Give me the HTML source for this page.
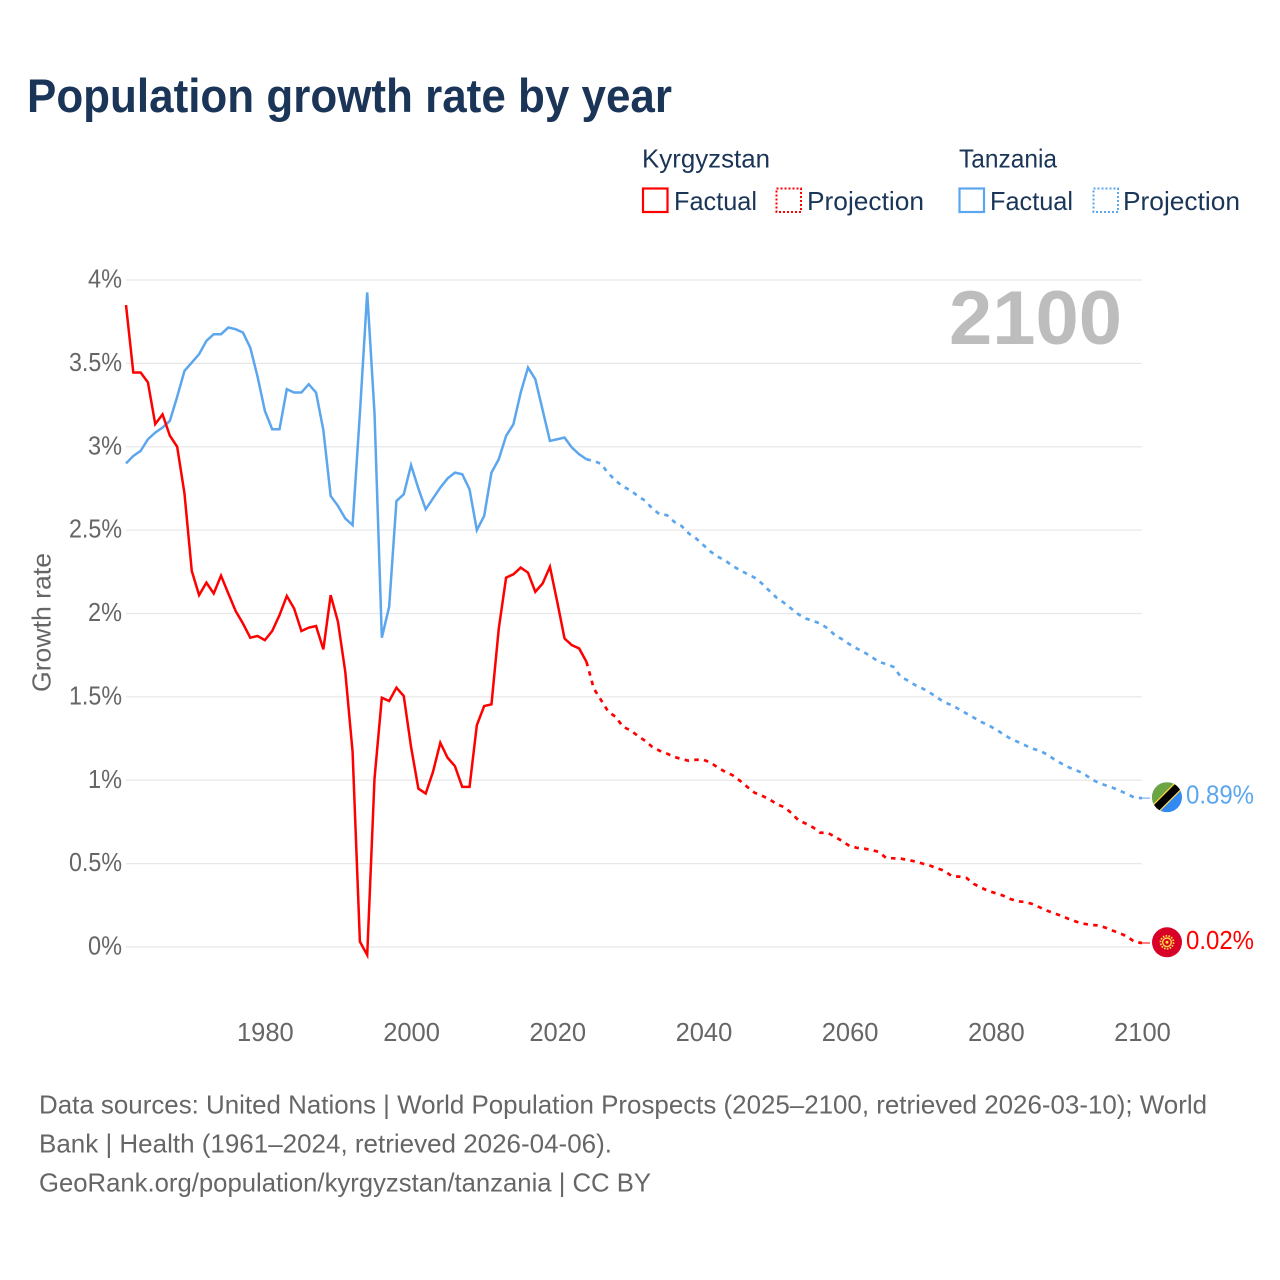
<!DOCTYPE html>
<html lang="en">
<head>
<meta charset="utf-8">
<title>Population growth rate by year</title>
<style>
html,body{margin:0;padding:0;background:#fff;}
svg{display:block;font-family:"Liberation Sans",sans-serif;}
.legend-text{font-size:26px;fill:#1a3557;}
.foot{font-size:26px;fill:#666;}
</style>
</head>
<body>
<svg id="chart" xmlns="http://www.w3.org/2000/svg" width="1280" height="1280" viewBox="0 0 1280 1280">
  <defs>
    <clipPath id="clip-flag"><circle cx="0" cy="0" r="15"/></clipPath>
  </defs>
  <rect x="0" y="0" width="1280" height="1280" fill="#fff"/>
  <text x="27" y="112" font-size="47" font-weight="700" fill="#1a3557" textLength="645" lengthAdjust="spacingAndGlyphs">Population growth rate by year</text>

  <g>
    <text class="legend-text" x="642" y="167.500" textLength="128" lengthAdjust="spacingAndGlyphs">Kyrgyzstan</text>
    <text class="legend-text" x="959" y="167.500" textLength="98" lengthAdjust="spacingAndGlyphs">Tanzania</text>
    <rect x="643" y="188.500" width="24.500" height="23.500" fill="none" stroke="#ff0000" stroke-width="2.200"/>
    <text class="legend-text" x="674" y="210" textLength="83" lengthAdjust="spacingAndGlyphs">Factual</text>
    <rect x="776.500" y="188.500" width="24.500" height="23.500" fill="none" stroke="#ff0000" stroke-width="2" stroke-dasharray="2 2"/>
    <text class="legend-text" x="807" y="210" textLength="117" lengthAdjust="spacingAndGlyphs">Projection</text>
    <rect x="959.500" y="188.500" width="24.500" height="23.500" fill="none" stroke="#5ca6ee" stroke-width="2.200"/>
    <text class="legend-text" x="990" y="210" textLength="83" lengthAdjust="spacingAndGlyphs">Factual</text>
    <rect x="1093.500" y="188.500" width="24.500" height="23.500" fill="none" stroke="#5ca6ee" stroke-width="2" stroke-dasharray="2 2"/>
    <text class="legend-text" x="1123" y="210" textLength="117" lengthAdjust="spacingAndGlyphs">Projection</text>
  </g>

  <g id="grid"></g>
  <g id="y-ticks"></g>
  <g id="x-ticks"></g>
  <text transform="translate(50.500,622.500) rotate(-90)" text-anchor="middle" font-size="26" fill="#666" textLength="139" lengthAdjust="spacingAndGlyphs">Growth rate</text>
  <text x="949" y="344" font-size="76" font-weight="700" fill="#bdbdbd" textLength="173" lengthAdjust="spacingAndGlyphs">2100</text>

  <g id="series"></g>

  <g id="flag-tz">
    <g clip-path="url(#clip-flag)">
      <rect x="-15" y="-15" width="30" height="30" fill="#338af3"/>
      <polygon points="-15,-15 15,-15 -15,15" fill="#6da544"/>
      <line x1="-20" y1="20" x2="20" y2="-20" stroke="#ffda44" stroke-width="10"/>
      <line x1="-20" y1="20" x2="20" y2="-20" stroke="#000" stroke-width="7.500"/>
    </g>
  </g>
  <g id="flag-kg">
    <circle r="15" fill="#d80027"/>
    <circle r="6.500" fill="none" stroke="#ffda44" stroke-width="1.800" stroke-dasharray="1.600 1.300"/>
    <circle r="5" fill="#ffda44"/>
    <circle r="3.600" fill="#d80027"/>
    <circle r="1.500" fill="#ffda44"/>
  </g>
  <text id="label-tz" x="1186" font-size="26" fill="#5ca6ee" textLength="68" lengthAdjust="spacingAndGlyphs"></text>
  <text id="label-kg" x="1186" font-size="26" fill="#ff0000" textLength="68" lengthAdjust="spacingAndGlyphs"></text>

  <g>
    <text class="foot" x="39" y="1113.500" textLength="1168" lengthAdjust="spacingAndGlyphs">Data sources: United Nations | World Population Prospects (2025–2100, retrieved 2026-03-10); World</text>
    <text class="foot" x="39" y="1152.500" textLength="573" lengthAdjust="spacingAndGlyphs">Bank | Health (1961–2024, retrieved 2026-04-06).</text>
    <text class="foot" x="39" y="1191.500" textLength="612" lengthAdjust="spacingAndGlyphs">GeoRank.org/population/kyrgyzstan/tanzania | CC BY</text>
  </g>
</svg>
<script>
const firstYear = 1961;
const lastYear = 2100;
const factualEndYear = 2024;
const yTickValues = [0, 0.5, 1, 1.5, 2, 2.5, 3, 3.5, 4];
const yTickLabels = ["0%", "0.5%", "1%", "1.5%", "2%", "2.5%", "3%", "3.5%", "4%"];
const xTickValues = [1980, 2000, 2020, 2040, 2060, 2080, 2100];
const xTickLabels = ["1980", "2000", "2020", "2040", "2060", "2080", "2100"];
const endLabels = { kyrgyzstan: "0.02%", tanzania: "0.89%" };

// Kyrgyzstan 1961-2024
const kyrgyzstanFactual = [3.85,3.445,3.445,3.386,3.136,3.194,3.066,3.0,2.72,2.255,2.11,2.185,2.12,2.227,2.12,2.015,1.94,1.855,1.865,1.84,1.895,1.99,2.105,2.03,1.895,1.915,1.925,1.785,2.11,1.95,1.65,1.17,0.032,-0.048,1.01,1.495,1.475,1.555,1.505,1.2,0.95,0.92,1.05,1.225,1.135,1.085,0.96,0.96,1.33,1.445,1.455,1.91,2.215,2.235,2.275,2.245,2.13,2.18,2.28,2.07,1.85,1.81,1.79,1.71];
// Kyrgyzstan 2024-2100
const kyrgyzstanProjection = [1.71,1.55,1.48,1.41,1.38,1.32,1.30,1.267,1.237,1.20,1.177,1.16,1.14,1.127,1.117,1.123,1.123,1.105,1.075,1.05,1.03,0.997,0.96,0.925,0.907,0.887,0.857,0.84,0.805,0.76,0.74,0.717,0.685,0.685,0.66,0.635,0.605,0.595,0.59,0.582,0.57,0.534,0.532,0.53,0.522,0.512,0.50,0.488,0.472,0.456,0.424,0.422,0.414,0.378,0.356,0.336,0.322,0.308,0.288,0.274,0.27,0.258,0.238,0.218,0.202,0.186,0.168,0.152,0.14,0.132,0.13,0.116,0.098,0.082,0.062,0.03,0.024];
// Tanzania 1961-2024
const tanzaniaFactual = [2.90,2.945,2.975,3.045,3.085,3.115,3.155,3.30,3.455,3.505,3.555,3.635,3.675,3.675,3.715,3.705,3.685,3.595,3.42,3.215,3.105,3.105,3.345,3.325,3.325,3.375,3.325,3.10,2.705,2.645,2.57,2.53,3.2,3.925,3.2,1.855,2.04,2.675,2.715,2.89,2.75,2.625,2.69,2.755,2.81,2.845,2.835,2.745,2.50,2.585,2.845,2.925,3.065,3.135,3.325,3.475,3.405,3.22,3.035,3.045,3.055,2.995,2.955,2.925];
// Tanzania 2024-2100
const tanzaniaProjection = [2.925,2.915,2.897,2.84,2.797,2.76,2.74,2.705,2.677,2.63,2.595,2.59,2.55,2.525,2.48,2.45,2.41,2.37,2.34,2.317,2.285,2.26,2.237,2.215,2.18,2.137,2.095,2.065,2.03,1.995,1.97,1.955,1.94,1.91,1.87,1.845,1.815,1.79,1.767,1.74,1.71,1.697,1.68,1.62,1.597,1.57,1.55,1.525,1.495,1.467,1.45,1.425,1.40,1.375,1.35,1.33,1.305,1.277,1.25,1.23,1.21,1.19,1.177,1.155,1.125,1.10,1.077,1.06,1.04,1.01,0.985,0.97,0.955,0.937,0.917,0.895,0.893];

const svgNS = "http://www.w3.org/2000/svg";
const plotLeft = 126, plotRight = 1142, plotZero = 947, pxPerUnit = 166.75;
function xScale(year) { return plotLeft + (year - firstYear) * (plotRight - plotLeft) / (lastYear - firstYear); }
function yScale(v) { return plotZero - v * pxPerUnit; }
function make(tag, attrs, parent) {
  const el = document.createElementNS(svgNS, tag);
  for (const k in attrs) el.setAttribute(k, attrs[k]);
  parent.appendChild(el);
  return el;
}
const gridG = document.getElementById("grid");
const yG = document.getElementById("y-ticks");
const xG = document.getElementById("x-ticks");
const seriesG = document.getElementById("series");

yTickValues.forEach(function (v, i) {
  const line = make("line", { x1: plotLeft, x2: plotRight, y1: yScale(v), y2: yScale(v), stroke: "#e8e8e8", "stroke-width": 1.3 }, gridG);
  
  
  const label = yTickLabels[i];
  const labelWidth = 34 + (label.length - 2) * 9.5;
  const t = make("text", { x: 122 - labelWidth, y: yScale(v) + 7.5, "font-size": 25.5, fill: "#666", textLength: labelWidth, lengthAdjust: "spacingAndGlyphs" }, yG);
  
  
  t.textContent = label;
});
xTickValues.forEach(function (yr, i) {
  const t = make("text", { x: xScale(yr) + 0.5, y: 1041, "text-anchor": "middle", "font-size": 25.5, fill: "#666" }, xG);
  
  
  t.textContent = xTickLabels[i];
});
function pathFrom(values, startYear) {
  return values.map(function (v, i) {
    return (i ? "L" : "M") + xScale(startYear + i).toFixed(2) + " " + yScale(v).toFixed(2);
  }).join("");
}
const colorKg = "#ff0000", colorTz = "#5ca6ee";

const tzFactualLine = make("path", { d: pathFrom(tanzaniaFactual, firstYear), fill: "none", stroke: colorTz, "stroke-width": 2.5, "stroke-linejoin": "miter" }, seriesG);


const tzProjectionLine = make("path", { d: pathFrom(tanzaniaProjection, factualEndYear), fill: "none", stroke: colorTz, "stroke-width": 2.7, "stroke-dasharray": "4.5 5.3" }, seriesG);


const kgFactualLine = make("path", { d: pathFrom(kyrgyzstanFactual, firstYear), fill: "none", stroke: colorKg, "stroke-width": 2.5, "stroke-linejoin": "miter" }, seriesG);


const kgProjectionLine = make("path", { d: pathFrom(kyrgyzstanProjection, factualEndYear), fill: "none", stroke: colorKg, "stroke-width": 2.7, "stroke-dasharray": "4.5 5.3" }, seriesG);



const tzEnd = tanzaniaProjection[tanzaniaProjection.length - 1];
const kgEnd = kyrgyzstanProjection[kyrgyzstanProjection.length - 1];
const tzConnector = make("line", { x1: xScale(lastYear), x2: 1150, y1: yScale(tzEnd), y2: yScale(tzEnd), stroke: colorTz, "stroke-width": 1 }, seriesG);


const kgConnector = make("line", { x1: xScale(lastYear), x2: 1150, y1: yScale(kgEnd), y2: yScale(kgEnd), stroke: colorKg, "stroke-width": 1 }, seriesG);



document.getElementById("flag-tz").setAttribute("transform", "translate(1167," + (yScale(tzEnd) - 0.8) + ")");
document.getElementById("flag-kg").setAttribute("transform", "translate(1167," + (yScale(kgEnd) - 0.7) + ")");
const labelTz = document.getElementById("label-tz");
labelTz.setAttribute("y", yScale(tzEnd) + 5.5);
labelTz.textContent = endLabels.tanzania;
const labelKg = document.getElementById("label-kg");
labelKg.setAttribute("y", yScale(kgEnd) + 6);
labelKg.textContent = endLabels.kyrgyzstan;
</script>
</body>
</html>
